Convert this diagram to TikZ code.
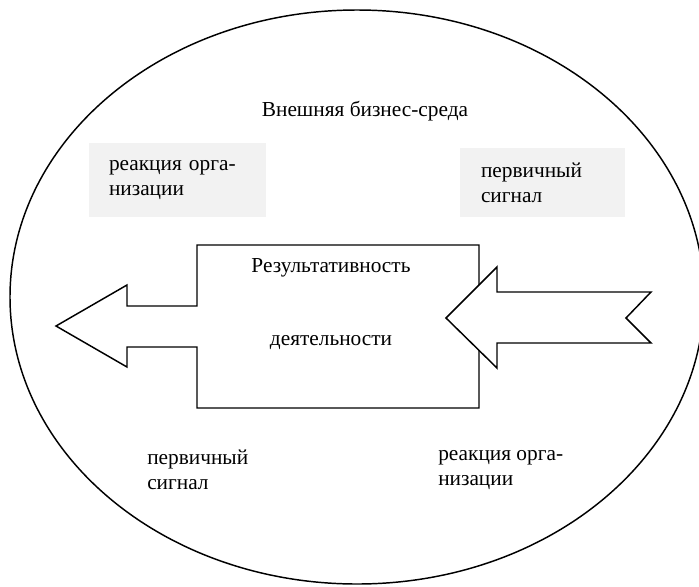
\documentclass[tikz,border=0pt]{standalone}
\usepackage{fontspec}
\setmainfont{Liberation Serif}
\begin{document}
\begin{tikzpicture}[x=0.75pt,y=-0.75pt,
  outline/.style={draw=black,line width=1.1pt,line join=miter},
  lbl/.style={font=\fontsize{16}{18.75}\selectfont,inner sep=0pt,align=left},
  graybox/.style={fill=black!5,draw=none,font=\fontsize{16}{18.75}\selectfont,align=left,inner ysep=0pt,anchor=center}]
\useasboundingbox (0,0) rectangle (699,586);
\begin{scope}
  \clip (0,0) rectangle (699,586);
  \draw[line width=1.1pt] (357,297) ellipse [x radius=347, y radius=287];
\end{scope}
\node[lbl] (title) at (365,111) {Внешняя бизнес-среда};
\node[graybox,minimum width=177*0.75pt,minimum height=74*0.75pt,text width=137*0.75pt,inner xsep=20*0.75pt] (gl) at (177.5,180) {реакция орга-\\низации};
\node[graybox,minimum width=165*0.75pt,minimum height=69*0.75pt,text width=123*0.75pt,inner xsep=21*0.75pt] (gr) at (542.5,182.5) {первичный\\сигнал};
% box with outgoing arrow
\draw[outline,fill=white] (197,245) -- (479,245) -- (479,408) -- (197,408) -- (197,347) -- (127,347) -- (127,367) -- (56,326) -- (127,285) -- (127,306) -- (197,306) -- cycle;
% incoming arrow
\draw[outline,fill=white] (446,318) -- (497,267) -- (497,292) -- (651,292) -- (626,318) -- (651,343) -- (497,343) -- (497,368) -- cycle;
\node[lbl] (res) at (331,268) {Результативность};
\node[lbl] (dey) at (331,343) {деятельности};
\node[lbl,anchor=west] (bl) at (147,470) {первичный\\сигнал};
\node[lbl,anchor=west] (br) at (438,470) {реакция орга-\\низации};
\end{tikzpicture}
\end{document}
